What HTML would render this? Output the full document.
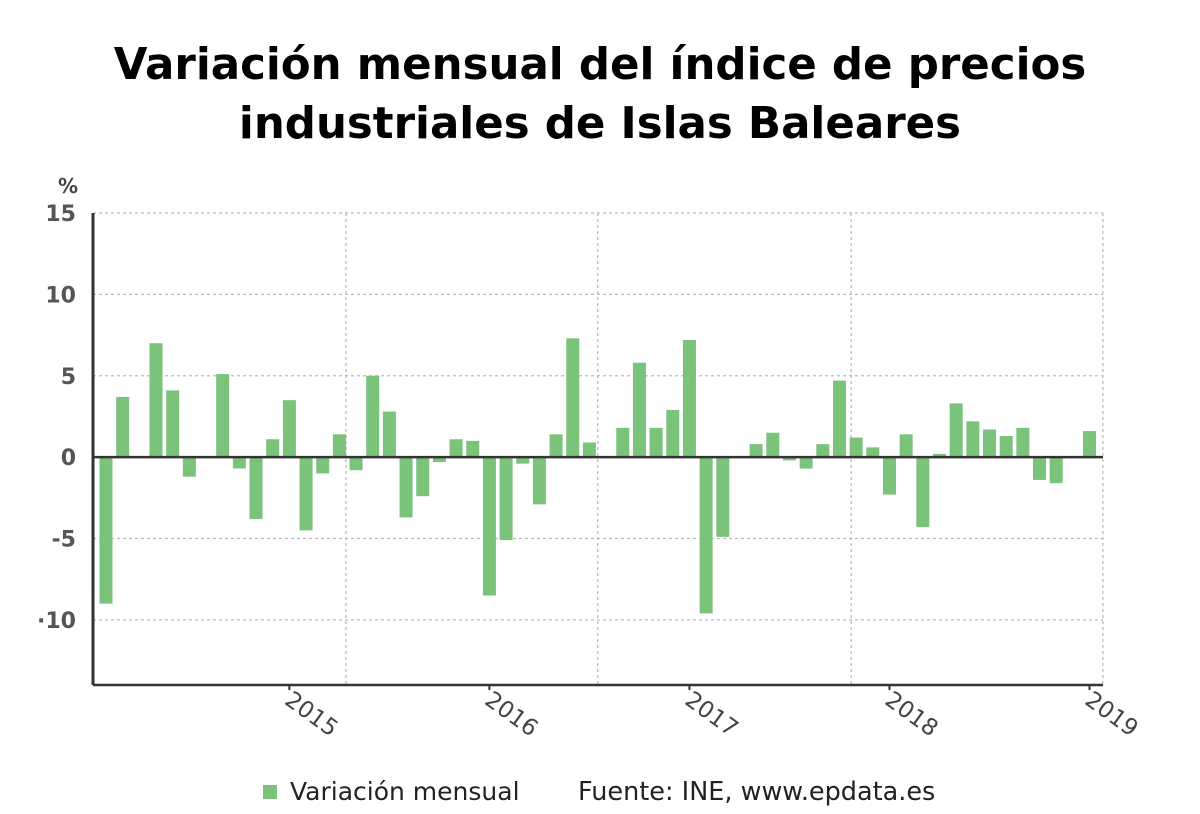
<!DOCTYPE html>
<html><head><meta charset="utf-8"><style>
html,body{margin:0;padding:0;background:#fff;}
body{width:1200px;height:809px;overflow:hidden;}
svg text{font-family:"DejaVu Sans","Liberation Sans",sans-serif;}
</style></head><body>
<svg id="chart" width="1200" height="809" viewBox="0 0 1200 809" xmlns="http://www.w3.org/2000/svg">
<text x="600" y="79" text-anchor="middle" font-size="43.5" font-weight="bold" fill="#000">Variación mensual del índice de precios</text>
<text x="600" y="138" text-anchor="middle" font-size="43.5" font-weight="bold" fill="#000">industriales de Islas Baleares</text>
<text x="68" y="193" text-anchor="middle" font-size="20" font-weight="bold" fill="#444">%</text>
<g id="grid"></g>
<g id="bars"></g>
<g id="axes"></g>
<rect x="263" y="785" width="14" height="14" fill="#7bc27b"/>
<text x="290" y="800" font-size="25" fill="#222">Variación mensual</text>
<text x="578" y="800" font-size="25.5" fill="#222">Fuente: INE, www.epdata.es</text>
</svg>
<script>
const values = [-9.0,3.7,0,7.0,4.1,-1.2,0,5.1,-0.7,-3.8,1.1,3.5,
-4.5,-1.0,1.4,-0.8,5.0,2.8,-3.7,-2.4,-0.3,1.1,1.0,-8.5,
-5.1,-0.4,-2.9,1.4,7.3,0.9,0,1.8,5.8,1.8,2.9,7.2,
-9.6,-4.9,0,0.8,1.5,-0.2,-0.7,0.8,4.7,1.2,0.6,-2.3,
1.4,-4.3,0.2,3.3,2.2,1.7,1.3,1.8,-1.4,-1.6,0,1.6];
const yTicks = [15,10,5,0,-5,-10];
const yTickLabels = ["15","10","5","0","-5","·10"];
const xTickIndex = [11,23,35,47,59];
const xTickLabels = ["2015","2016","2017","2018","2019"];
const gridIndex = [14.4,29.5,44.7,59.8];

const NS="http://www.w3.org/2000/svg";
const X0=93, X1=1103, yMin=-14, yMax=15, Ytop=213, Ybot=685;
const y = v => Ybot - (v - yMin) / (yMax - yMin) * (Ybot - Ytop);
const x = i => 106 + i * 16.67;
function mk(tag, attrs, parent){const e=document.createElementNS(NS,tag);for(const k in attrs)e.setAttribute(k,attrs[k]);parent.appendChild(e);return e;}
const grid=document.getElementById('grid'), bars=document.getElementById('bars'), axes=document.getElementById('axes');

yTicks.forEach((t,k)=>{
  if(t!==0){
    const l=mk('line',{x1:X0,x2:X1,y1:y(t),y2:y(t),stroke:'#bbb','stroke-width':1.3,'stroke-dasharray':'3,3'},grid);
    
    
  }
  const tx=mk('text',{x:76,y:y(t)+8,'text-anchor':'end','font-size':22,'font-weight':'bold',fill:'#555'},axes);
  tx.textContent=yTickLabels[k];
  
  
});
gridIndex.forEach(g=>{
  const l=mk('line',{x1:x(g),x2:x(g),y1:Ytop,y2:Ybot,stroke:'#bbb','stroke-width':1.3,'stroke-dasharray':'3,3'},grid);
  
  
});
values.forEach((v,i)=>{
  const top=Math.min(y(v),y(0)), h=Math.abs(y(v)-y(0));
  const r=mk('rect',{x:x(i)-6.5,y:top,width:13,height:Math.max(h,0.01),fill:'#7bc27b'},bars);
  
  
});
let l=mk('line',{x1:X0,x2:X1,y1:y(0),y2:y(0),stroke:'#333','stroke-width':2.5},axes);


l=mk('line',{x1:X0,x2:X0,y1:Ytop,y2:Ybot,stroke:'#333','stroke-width':3},axes);


l=mk('line',{x1:X0,x2:X1,y1:Ybot,y2:Ybot,stroke:'#333','stroke-width':2.5},axes);


xTickIndex.forEach((idx,k)=>{
  const px=x(idx);
  const tk=mk('line',{x1:px,x2:px,y1:Ybot,y2:Ybot+5,stroke:'#333','stroke-width':2},axes);
  
  
  const t=mk('text',{x:0,y:0,'font-size':23,fill:'#444',transform:`translate(${px-6},${Ybot+18}) rotate(36)`},axes);
  t.textContent=xTickLabels[k];
  
  
});
</script>
</body></html>
